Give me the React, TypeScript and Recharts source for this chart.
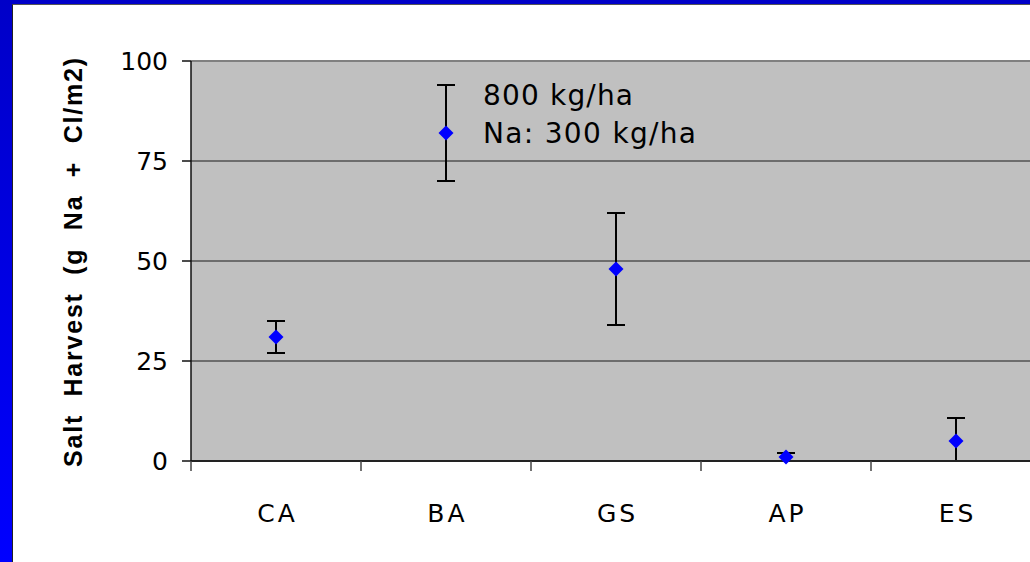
import React from 'react';
import {
  ComposedChart,
  Scatter,
  XAxis,
  YAxis,
  CartesianGrid,
  ErrorBar,
  ReferenceLine,
  ReferenceDot,
} from 'recharts';

const categories = ['CA', 'BA', 'GS', 'AP', 'ES'];
const harvest = [31, 82, 48, 1, 5];
const errLow = [4, 12, 14, 1, 5];
const errHigh = [4, 12, 14, 1, 5.75];
const yTicks = [0, 25, 50, 75, 100];
const noteLines = ['800 kg/ha', 'Na: 300 kg/ha'];
const noteCategory = 'BA';
const noteValue = 82;
const yLabel = 'Salt  Harvest  (g  Na  +  Cl/m2)';

const data = categories.map((c, i) => ({
  name: c,
  value: harvest[i],
  err: [errLow[i], errHigh[i]],
}));

const FONT = '"DejaVu Sans", Verdana, sans-serif';

const Diamond = (props: any) => {
  const { cx, cy } = props;
  if (cx == null || cy == null) return null;
  const r = 7.5;
  return (
    <polygon
      points={`${cx},${cy - r} ${cx + r},${cy} ${cx},${cy + r} ${cx - r},${cy}`}
      fill="#0000FF"
    />
  );
};

const XTick = (props: any) => {
  const { x, y, payload } = props;
  const half = payload && payload.offset ? payload.offset : 85;
  return (
    <g>
      <line x1={x - half} x2={x - half} y1={y} y2={y + 10} stroke="#444" strokeWidth={1.5} />
      <text
        x={x + 1.5}
        y={y + 61}
        textAnchor="middle"
        fontFamily={FONT}
        fontSize={25}
        letterSpacing={3}
        fill="#000"
      >
        {payload.value}
      </text>
    </g>
  );
};

const renderYLabel = () => (
  <text
    x={82}
    y={262.5}
    transform="rotate(-90, 82, 262.5)"
    textAnchor="middle"
    fontFamily='"Liberation Sans", Arial, sans-serif'
    fontWeight="bold"
    fontSize={25}
    fill="#000"
    textLength={409}
    lengthAdjust="spacing"
    style={{ whiteSpace: 'pre' }}
  >
    {yLabel}
  </text>
);

const renderNote = (props: any) => {
  const vb = props.viewBox || {};
  const cx = (vb.x || 0) + (vb.width || 0) / 2;
  const cy = (vb.y || 0) + (vb.height || 0) / 2;
  return (
    <g>
      <text x={cx + 37} y={cy - 28} fontFamily={FONT} fontSize={28} fill="#000" textLength={150} lengthAdjust="spacing">
        {noteLines[0]}
      </text>
      <text x={cx + 37} y={cy + 10} fontFamily={FONT} fontSize={28} fill="#000" textLength={213} lengthAdjust="spacing">
        {noteLines[1]}
      </text>
    </g>
  );
};

export default function App() {
  return (
    <div
      style={{
        position: 'fixed',
        left: 0,
        top: 0,
        width: 1030,
        height: 562,
        overflow: 'hidden',
        background: 'linear-gradient(to bottom, #0000c8, #0000ff)',
      }}
    >
      <div
        style={{
          position: 'absolute',
          left: 12,
          top: 4,
          width: 1100,
          height: 600,
          background: '#fff',
          borderLeft: '1px solid #222',
          borderTop: '1px solid #555',
        }}
      />
      <div style={{ position: 'absolute', left: 0, top: 0 }}>
        <ComposedChart
          width={1060}
          height={562}
          data={data}
          margin={{ top: 61, right: 19, bottom: 41, left: 0 }}
        >
          <CartesianGrid
            horizontal
            vertical={false}
            fill="#C0C0C0"
            fillOpacity={1}
            stroke="#1a1a1a"
            strokeWidth={1}
          />
          <ReferenceLine y={100} stroke="#808080" strokeWidth={2} />
          <XAxis
            dataKey="name"
            type="category"
            scale="band"
            allowDuplicatedCategory={false}
            height={60}
            tickLine={false}
            tickSize={0}
            tickMargin={0}
            axisLine={{ stroke: '#222', strokeWidth: 2 }}
            tick={<XTick />}
            interval={0}
          />
          <YAxis
            width={191}
            domain={[0, 100]}
            ticks={yTicks}
            type="number"
            tickSize={9}
            tickMargin={14}
            axisLine={{ stroke: '#111', strokeWidth: 1.5 }}
            tickLine={{ stroke: '#111', strokeWidth: 1.5 }}
            tick={{ fontFamily: FONT, fontSize: 25, fill: '#000' }}
            label={renderYLabel}
          />
          <Scatter dataKey="value" shape={<Diamond />} isAnimationActive={false}>
            <ErrorBar dataKey="err" direction="y" width={9} stroke="#000" strokeWidth={2} />
          </Scatter>
          <ReferenceDot
            x={noteCategory}
            y={noteValue}
            r={0}
            fill="none"
            stroke="none"
            label={renderNote}
          />
        </ComposedChart>
      </div>
    </div>
  );
}
